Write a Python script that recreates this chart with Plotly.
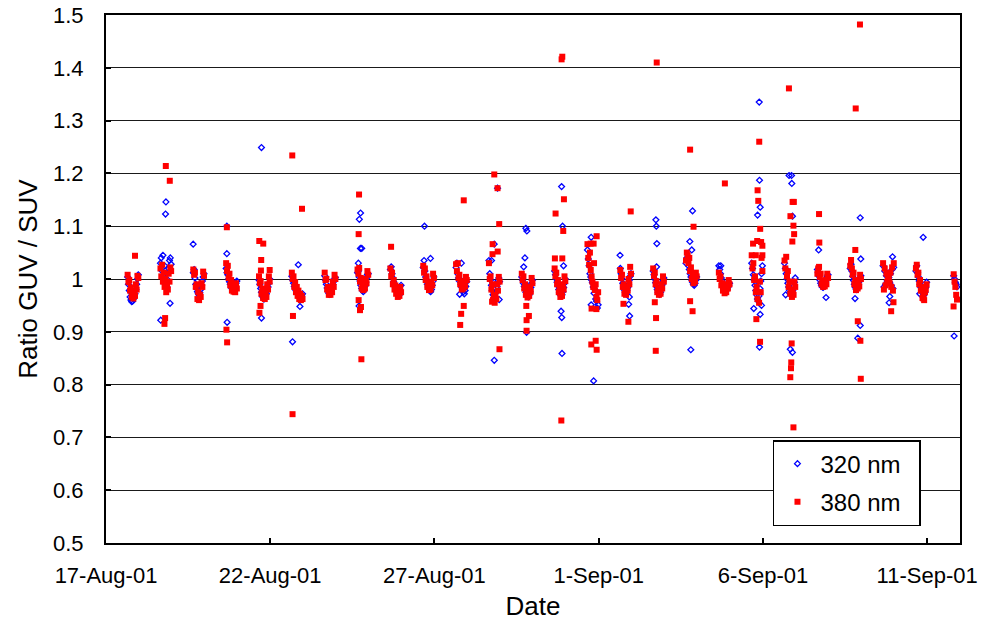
import plotly.graph_objects as go
from datetime import datetime, timedelta

# ---------------- data ----------------
cluster_dates = ["2001-08-17", "2001-08-18", "2001-08-19", "2001-08-20", "2001-08-21",
                 "2001-08-22", "2001-08-23", "2001-08-24", "2001-08-25", "2001-08-26",
                 "2001-08-27", "2001-08-28", "2001-08-29", "2001-08-30", "2001-08-31",
                 "2001-09-01", "2001-09-02", "2001-09-03", "2001-09-04", "2001-09-05",
                 "2001-09-06", "2001-09-07", "2001-09-08", "2001-09-09", "2001-09-10",
                 "2001-09-11"]

# hour of day (UTC) of each scan
scan_hours = [15.8, 16.4, 17.0, 17.6, 18.2, 18.8, 19.4, 20.0, 20.6, 21.2, 21.8, 22.4, 23.0, 23.6]

ratio320_daily = [
    [1.004, 0.990, 0.978, 0.966, 0.960, 0.957, 0.958, 0.962, 0.966, 0.972, 0.980, 0.990, 1.000, 1.008],
    [1.030, 1.040, 1.015, 1.045, 1.005, 1.025, 0.990, 1.010, 0.985, 0.998, 1.020, 1.035, 1.040, 1.028],
    [1.012, 1.018, 1.002, 0.990, 0.982, 0.976, 0.972, 0.970, 0.974, 0.980, 0.988, 0.996, 1.004, 1.010],
    [1.020, 1.012, 1.008, 1.000, 0.995, 0.990, 0.985, 0.982, 0.978, 0.980, 0.984, 0.988, 0.992, 0.996],
    [0.998, 0.990, 0.982, 0.975, 0.968, 0.965, 0.962, 0.965, 0.968, 0.972, 0.978, 0.985, 0.992, 1.000],
    [1.005, 0.998, 0.992, 0.986, 0.982, 0.978, 0.975, 0.973, 0.970, 0.968, 0.966, 0.965, 0.968, 0.972],
    [1.006, 0.998, 0.990, 0.983, 0.977, 0.973, 0.971, 0.973, 0.977, 0.984, 0.990, 0.995, 1.000, 1.003],
    [1.012, 1.015, 1.004, 0.996, 0.988, 0.982, 0.978, 0.976, 0.980, 0.986, 0.994, 1.002, 1.008, 1.010],
    [1.018, 1.023, 1.010, 1.002, 0.995, 0.990, 0.985, 0.980, 0.978, 0.975, 0.972, 0.970, 0.978, 0.988],
    [1.022, 1.035, 1.015, 1.004, 0.996, 0.990, 0.985, 0.980, 0.978, 0.976, 0.980, 0.988, 0.996, 1.004],
    [1.022, 1.030, 1.010, 1.002, 0.996, 0.999, 0.990, 0.984, 0.980, 0.976, 0.972, 0.978, 0.986, 0.995],
    [1.035, 1.010, 0.998, 0.988, 0.978, 0.970, 0.964, 0.961, 0.966, 0.975, 0.986, 0.996, 1.002, 0.995],
    [1.004, 0.998, 0.992, 0.986, 0.980, 0.975, 0.970, 0.967, 0.966, 0.970, 0.976, 0.984, 0.992, 0.998],
    [1.015, 1.008, 1.000, 0.994, 0.987, 0.980, 0.974, 0.970, 0.968, 0.970, 0.976, 0.984, 0.992, 1.000],
    [1.055, 1.038, 1.025, 1.010, 1.004, 0.998, 0.993, 0.985, 0.973, 0.980, 0.962, 0.958, 0.945, 0.951],
    [1.020, 1.010, 1.000, 0.992, 0.985, 0.979, 0.975, 0.975, 0.978, 0.984, 0.990, 0.998, 1.005, 1.010],
    [1.015, 1.008, 1.000, 0.993, 0.986, 0.980, 0.975, 0.972, 0.971, 0.975, 0.982, 0.989, 0.996, 1.002],
    [1.030, 1.040, 1.035, 1.025, 1.018, 1.010, 1.004, 0.998, 0.994, 0.990, 0.988, 0.992, 0.998, 1.004],
    [1.025, 1.018, 1.010, 1.002, 0.996, 0.990, 0.985, 0.982, 0.980, 0.978, 0.980, 0.984, 0.988, 0.992],
    [1.030, 1.020, 1.008, 0.998, 0.988, 0.978, 0.970, 0.962, 0.958, 0.968, 0.982, 0.996, 1.010, 1.025],
    [1.030, 1.020, 1.010, 1.000, 0.992, 0.985, 0.978, 0.972, 0.970, 0.972, 0.978, 0.986, 0.994, 1.002],
    [1.018, 1.012, 1.005, 0.998, 0.992, 0.988, 0.985, 0.984, 0.986, 0.990, 0.995, 1.000, 1.005, 1.008],
    [1.020, 1.028, 1.015, 1.005, 0.997, 0.990, 0.985, 0.981, 0.980, 0.983, 0.989, 0.995, 1.002, 1.006],
    [1.025, 0.985, 1.015, 0.990, 1.006, 0.996, 0.999, 1.003, 0.994, 1.010, 0.988, 1.018, 0.982, 1.022],
    [1.015, 1.025, 1.012, 1.004, 0.996, 0.990, 0.984, 0.978, 0.974, 0.972, 0.970, 0.975, 0.984, 0.994],
    [None, None, None, None, None, None, 1.006, 1.000, 0.994, 0.990, 0.985, None, None, None],
]

ratio380_daily = [
    [1.008, 0.994, 0.998, 0.978, 0.984, 0.966, 0.976, 0.963, 0.974, 0.968, 0.990, 0.980, 1.006, 1.002],
    [1.020, 1.005, 1.027, 0.995, 1.012, 0.985, 1.000, 0.975, 0.990, 0.980, 1.010, 0.995, 1.022, 1.015],
    [1.018, 1.008, 1.012, 0.985, 0.990, 0.962, 0.975, 0.960, 0.970, 0.966, 0.992, 0.985, 1.014, 1.006],
    [1.030, 1.015, 1.025, 1.002, 1.010, 0.988, 0.998, 0.978, 0.990, 0.976, 0.985, 0.975, 0.992, 0.982],
    [1.005, 0.992, 0.996, 0.972, 0.982, 0.964, 0.972, 0.962, 0.975, 0.966, 0.990, 0.980, 1.005, 0.995],
    [1.012, 1.000, 1.005, 0.985, 0.994, 0.975, 0.985, 0.968, 0.978, 0.962, 0.972, 0.960, 0.968, 0.962],
    [1.012, 0.998, 1.000, 0.980, 0.985, 0.970, 0.976, 0.970, 0.980, 0.975, 0.995, 0.985, 1.008, 1.000],
    [1.018, 1.010, 1.021, 0.995, 1.002, 0.982, 0.990, 0.979, 0.988, 0.982, 1.000, 0.992, 1.015, 1.008],
    [1.020, 1.005, 1.012, 0.990, 0.998, 0.980, 0.988, 0.972, 0.982, 0.966, 0.975, 0.968, 0.985, 0.975],
    [1.025, 1.012, 1.020, 0.998, 1.005, 0.985, 0.992, 0.979, 0.986, 0.980, 0.995, 0.988, 1.010, 1.002],
    [1.028, 1.015, 1.030, 1.002, 1.008, 0.990, 0.996, 0.980, 0.988, 0.982, 0.995, 0.986, 1.004, 0.998],
    [1.030, 1.000, 1.005, 0.980, 0.990, 0.960, 0.970, 0.955, 0.968, 0.962, 0.990, 0.978, 1.004, 0.995],
    [1.010, 0.998, 1.005, 0.982, 0.990, 0.970, 0.978, 0.965, 0.974, 0.968, 0.985, 0.976, 1.002, 0.992],
    [1.020, 1.005, 1.012, 0.990, 0.998, 0.975, 0.982, 0.966, 0.975, 0.968, 0.990, 0.980, 1.005, 0.996],
    [1.066, 1.040, 1.027, 1.050, 1.017, 1.005, 0.995, 0.985, 1.030, 0.979, 0.990, 0.966, 0.960, 0.975],
    [1.017, 1.002, 1.008, 0.985, 0.990, 0.972, 0.978, 0.970, 0.985, 0.978, 1.000, 0.990, 1.023, 1.010],
    [1.020, 1.006, 1.012, 0.990, 0.996, 0.975, 0.982, 0.970, 0.978, 0.972, 0.990, 0.982, 1.005, 0.995],
    [1.035, 1.050, 1.045, 1.030, 1.040, 1.015, 1.022, 1.000, 1.010, 0.992, 1.000, 0.995, 1.012, 1.005],
    [1.012, 1.000, 1.005, 0.988, 0.992, 0.978, 0.985, 0.973, 0.980, 0.975, 0.990, 0.982, 0.998, 0.990],
    [1.045, 1.020, 1.030, 0.998, 1.005, 0.975, 0.985, 0.962, 0.975, 0.955, 0.995, 0.975, 1.040, 1.015],
    [1.035, 1.020, 1.042, 1.005, 1.015, 0.985, 0.995, 0.972, 0.980, 0.966, 0.978, 0.970, 0.995, 0.985],
    [1.010, 1.020, 1.023, 1.004, 1.010, 0.990, 0.996, 0.985, 0.992, 0.986, 0.998, 0.990, 1.010, 1.002],
    [1.025, 1.036, 1.020, 1.008, 1.012, 0.990, 0.998, 0.979, 0.988, 0.982, 0.995, 0.986, 1.008, 1.000],
    [1.030, 0.980, 1.020, 0.988, 1.010, 0.995, 1.000, 1.002, 0.992, 1.012, 0.985, 1.022, 0.978, 1.030],
    [1.020, 1.027, 1.008, 1.012, 0.990, 0.998, 0.978, 0.985, 0.964, 0.972, 0.960, 0.975, 0.980, 0.990],
    [None, None, None, None, None, None, 1.009, 0.995, 0.985, 0.970, 0.961, None, None, None],
]

# scattered individual scans (date, hour, ratio)
out320_date = ["2001-08-18", "2001-08-18", "2001-08-18", "2001-08-18",
               "2001-08-19",
               "2001-08-20", "2001-08-20", "2001-08-20",
               "2001-08-21", "2001-08-21",
               "2001-08-22", "2001-08-22", "2001-08-22",
               "2001-08-24", "2001-08-24", "2001-08-24", "2001-08-24", "2001-08-24", "2001-08-24",
               "2001-08-26", "2001-08-26",
               "2001-08-27", "2001-08-27",
               "2001-08-28", "2001-08-28", "2001-08-28", "2001-08-28", "2001-08-28",
               "2001-08-29", "2001-08-29", "2001-08-29", "2001-08-29", "2001-08-29",
               "2001-08-30", "2001-08-30", "2001-08-30", "2001-08-30", "2001-08-30", "2001-08-30",
               "2001-08-31", "2001-08-31", "2001-08-31",
               "2001-09-01", "2001-09-01", "2001-09-01", "2001-09-01",
               "2001-09-02", "2001-09-02", "2001-09-02", "2001-09-02",
               "2001-09-03", "2001-09-03", "2001-09-03", "2001-09-03",
               "2001-09-04",
               "2001-09-05", "2001-09-05", "2001-09-05", "2001-09-05", "2001-09-05", "2001-09-05",
               "2001-09-05", "2001-09-05",
               "2001-09-06", "2001-09-06", "2001-09-06", "2001-09-06", "2001-09-06", "2001-09-06",
               "2001-09-06",
               "2001-09-07", "2001-09-07",
               "2001-09-08", "2001-09-08", "2001-09-08", "2001-09-08", "2001-09-08",
               "2001-09-09", "2001-09-09", "2001-09-09",
               "2001-09-10", "2001-09-10",
               "2001-09-11"]
out320_hour = [19.8, 19.5, 16.0, 22.8,
               15.7,
               16.3, 16.3, 16.5,
               17.6, 17.6,
               20.5, 21.7, 16.3,
               18.0, 17.1, 17.9, 18.9, 16.4, 16.9,
               16.7, 21.1,
               19.7, 18.4,
               22.1, 19.7, 17.7, 23.3, 19.7,
               18.8, 19.5, 18.1, 17.2, 19.3,
               20.9, 21.6, 22.3, 20.5, 21.0, 21.2,
               18.5, 18.5, 20.3,
               15.6, 21.9, 22.6, 22.4,
               17.8, 18.1, 18.5, 18.3,
               20.6, 18.6, 20.0, 19.3,
               17.2,
               21.3, 21.5, 22.0, 20.1, 17.3, 23.0,
               22.0, 21.5,
               19.1, 20.9, 21.1, 21.6, 16.6, 20.0,
               21.6,
               16.7, 22.1,
               23.1, 23.5, 19.3, 23.1, 21.3,
               22.7, 20.7, 20.2,
               21.1, 18.6,
               19.7]
out320_ratio = [1.146, 1.123, 0.922, 0.954,
                1.066,
                1.100, 1.048, 0.918,
                1.249, 0.926,
                1.027, 0.948, 0.881,
                1.125, 1.113, 1.058, 1.058, 1.030, 0.949,
                1.100, 1.039,
                1.030, 0.971,
                1.172, 1.066, 1.035, 0.961, 0.846,
                1.096, 1.091, 1.040, 1.023, 0.899,
                1.175, 1.100, 1.025, 0.939, 0.927, 0.859,
                1.079, 0.951, 0.807,
                1.045, 0.952, 0.930, 0.966,
                1.112, 1.100, 1.067, 1.023,
                1.129, 1.071, 1.055, 0.866,
                1.025,
                1.335, 1.187, 1.136, 1.121, 0.944, 0.950,
                0.933, 0.871,
                1.196, 1.196, 1.181, 1.119, 0.970, 0.867,
                0.861,
                1.055, 0.965,
                1.116, 1.038, 0.963, 0.912, 0.888,
                1.042, 0.967, 0.955,
                1.079, 0.972,
                0.892]

out380_date = ["2001-08-17",
               "2001-08-18", "2001-08-18", "2001-08-18", "2001-08-18",
               "2001-08-20", "2001-08-20", "2001-08-20",
               "2001-08-21", "2001-08-21", "2001-08-21", "2001-08-21", "2001-08-21", "2001-08-21",
               "2001-08-21",
               "2001-08-22", "2001-08-22", "2001-08-22", "2001-08-22",
               "2001-08-24", "2001-08-24", "2001-08-24", "2001-08-24", "2001-08-24", "2001-08-24",
               "2001-08-25",
               "2001-08-27", "2001-08-27", "2001-08-27", "2001-08-27",
               "2001-08-28", "2001-08-28", "2001-08-28", "2001-08-28", "2001-08-28", "2001-08-28",
               "2001-08-28", "2001-08-28",
               "2001-08-29", "2001-08-29", "2001-08-29", "2001-08-29",
               "2001-08-30", "2001-08-30", "2001-08-30", "2001-08-30", "2001-08-30", "2001-08-30",
               "2001-08-30", "2001-08-30",
               "2001-08-31", "2001-08-31", "2001-08-31", "2001-08-31", "2001-08-31", "2001-08-31",
               "2001-08-31", "2001-08-31",
               "2001-09-01", "2001-09-01", "2001-09-01",
               "2001-09-02", "2001-09-02", "2001-09-02", "2001-09-02",
               "2001-09-03", "2001-09-03", "2001-09-03", "2001-09-03",
               "2001-09-04",
               "2001-09-05", "2001-09-05", "2001-09-05", "2001-09-05", "2001-09-05", "2001-09-05",
               "2001-09-05", "2001-09-05", "2001-09-05", "2001-09-05", "2001-09-05", "2001-09-05",
               "2001-09-06", "2001-09-06", "2001-09-06", "2001-09-06", "2001-09-06", "2001-09-06",
               "2001-09-06", "2001-09-06", "2001-09-06", "2001-09-06", "2001-09-06", "2001-09-06",
               "2001-09-07", "2001-09-07",
               "2001-09-08", "2001-09-08", "2001-09-08", "2001-09-08", "2001-09-08", "2001-09-08",
               "2001-09-09", "2001-09-09",
               "2001-09-10",
               "2001-09-11"]
out380_hour = [21.2,
               19.7, 22.6, 19.2, 18.7,
               16.3, 16.0, 16.5,
               16.0, 18.9, 17.4, 17.2, 23.6, 16.9,
               16.1,
               16.1, 23.2, 16.6, 16.3,
               16.9, 16.6, 16.6, 18.3, 17.6, 18.6,
               16.3,
               21.4, 21.4, 19.5, 18.8,
               19.7, 22.1, 23.3, 18.5, 18.4, 22.2,
               18.1, 23.5,
               19.1, 21.0, 19.3, 19.3,
               21.4, 20.9, 22.6, 16.5, 22.1, 16.0,
               21.4, 20.7,
               22.5, 20.3, 18.1, 18.8, 22.3, 21.8,
               18.6, 22.5,
               23.4, 18.1, 21.7,
               18.4, 17.0, 17.9, 17.7,
               18.8, 21.3, 18.8, 20.6,
               20.2,
               21.3, 20.1, 20.6, 22.0, 16.8, 19.8,
               22.7, 23.6, 18.8, 23.6, 19.2, 21.9,
               19.0, 21.7, 22.6, 20.1, 22.3, 22.8,
               21.5, 21.0, 20.7, 20.5, 20.0, 22.3,
               17.0, 17.2,
               19.5, 22.9, 19.8, 21.3, 23.2, 23.5,
               23.4, 21.7,
               21.3,
               19.3]
out380_ratio = [1.044,
                1.214, 1.186, 0.926, 0.915,
                1.098, 0.904, 0.880,
                1.072, 1.067, 1.036, 1.016, 1.017, 0.949,
                0.936,
                1.234, 1.133, 0.930, 0.744,
                1.160, 1.085, 0.960, 0.947, 0.941, 0.848,
                1.061,
                1.149, 0.949, 0.934, 0.913,
                1.198, 1.172, 1.104, 1.066, 1.047, 1.052,
                0.957, 0.867,
                0.949, 0.930, 0.922, 0.902,
                1.421, 1.416, 1.151, 1.124, 1.091, 1.039,
                1.039, 0.732,
                1.081, 1.067, 1.067, 0.944, 0.943, 0.883,
                0.876, 0.866,
                1.128, 0.953, 0.919,
                1.410, 0.956, 0.926, 0.864,
                1.245, 1.099, 0.958, 0.939,
                1.181,
                1.260, 1.168, 1.148, 1.095, 1.067, 1.072,
                1.070, 1.063, 1.045, 1.045, 0.924, 0.881,
                1.361, 1.146, 1.146, 1.119, 1.101, 1.085,
                1.071, 0.878, 0.842, 0.831, 0.814, 0.719,
                1.123, 1.069,
                1.055, 1.482, 1.323, 0.920, 0.883, 0.811,
                0.956, 0.939,
                0.963,
                0.948]

x_tick_dates = ["2001-08-17", "2001-08-22", "2001-08-27", "2001-09-01", "2001-09-06", "2001-09-11"]
x_tick_text = ["17-Aug-01", "22-Aug-01", "27-Aug-01", "1-Sep-01", "6-Sep-01", "11-Sep-01"]
y_tick_vals = [0.5, 0.6, 0.7, 0.8, 0.9, 1.0, 1.1, 1.2, 1.3, 1.4, 1.5]
y_tick_text = ["0.5", "0.6", "0.7", "0.8", "0.9", "1", "1.1", "1.2", "1.3", "1.4", "1.5"]


def build(daily, odates, ohours, ovals):
    xs, ys = [], []
    for d, vals in zip(cluster_dates, daily):
        base = datetime.fromisoformat(d)
        for h, v in zip(scan_hours, vals):
            if v is None:
                continue
            xs.append(base + timedelta(hours=h))
            ys.append(v)
    for d, h, v in zip(odates, ohours, ovals):
        xs.append(datetime.fromisoformat(d) + timedelta(hours=h))
        ys.append(v)
    return xs, ys


x320, y320 = build(ratio320_daily, out320_date, out320_hour, out320_ratio)
x380, y380 = build(ratio380_daily, out380_date, out380_hour, out380_ratio)

FONT = "Liberation Sans, Arial, sans-serif"

fig = go.Figure()
fig.add_trace(go.Scatter(
    x=x320, y=y320, mode="markers", name="320 nm\u00a0\u00a0", legendgroup="a",
    marker=dict(symbol="diamond-open", size=4.5, color="#0000FF", line=dict(width=1.3, color="#0000FF")),
    cliponaxis=True,
))
fig.add_trace(go.Scatter(
    x=x380, y=y380, mode="markers", name="380 nm\u00a0\u00a0", legendgroup="b",
    marker=dict(symbol="square", size=6, color="#FF0000", line=dict(width=0)),
    cliponaxis=True,
))

fig.update_layout(
    width=981, height=623,
    margin=dict(l=106, r=21, t=15, b=80, autoexpand=False),
    paper_bgcolor="white", plot_bgcolor="white",
    font=dict(family=FONT, color="black", size=22),
    showlegend=True,
    legend=dict(
        x=0.781, y=0.195, xanchor="left", yanchor="top",
        bgcolor="white", bordercolor="black", borderwidth=1.5,
        font=dict(size=24, family=FONT), tracegroupgap=4,
        traceorder="grouped", itemsizing="trace", itemwidth=36,
    ),
    xaxis=dict(
        type="date", range=["2001-08-17", "2001-09-12"],
        tickmode="array", tickvals=x_tick_dates, ticktext=x_tick_text,
        ticks="inside", ticklen=5, tickwidth=1.5, tickcolor="black",
        showline=True, linecolor="black", linewidth=2, mirror=True,
        showgrid=False, zeroline=False, automargin=False,
        tickfont=dict(size=22), ticklabelstandoff=12,
        title=dict(text="Date", font=dict(size=26), standoff=9),
    ),
    yaxis=dict(
        range=[0.5, 1.5],
        tickmode="array", tickvals=y_tick_vals, ticktext=y_tick_text,
        ticks="inside", ticklen=5, tickwidth=1.5, tickcolor="black",
        showline=True, linecolor="black", linewidth=2, mirror=True,
        showgrid=True, gridcolor="#1a1a1a", gridwidth=1,
        zeroline=False, automargin=False,
        tickfont=dict(size=22), ticklabelstandoff=16,
        title=dict(text="Ratio GUV / SUV", font=dict(size=26), standoff=8),
    ),
)

fig.write_html("out.html")
